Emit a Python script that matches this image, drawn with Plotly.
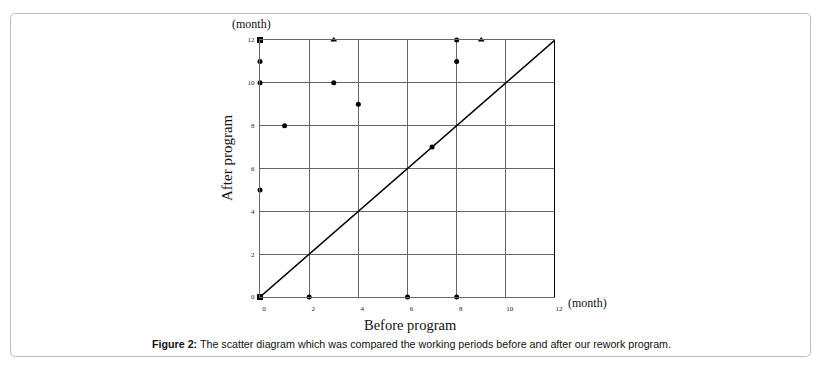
import plotly.graph_objects as go

# Data (months)
dot_before = [0, 0, 0, 1, 2, 3, 4, 6, 7, 8, 8, 8]
dot_after = [11, 10, 5, 8, 0, 10, 9, 0, 7, 12, 11, 0]
sq_before = [0, 0]
sq_after = [12, 0]
tri_before = [3, 9]
tri_after = [12, 12]
diag = [0, 12]
tick_vals = [0, 2, 4, 6, 8, 10, 12]
tick_text = ["0", "2", "4", "6", "8", "10", "12"]

W, H = 820, 366
L, R, T, B = 260, 265, 40, 69
pw, ph = W - L - R, H - T - B


def px(x):
    return (x - L) / pw


def py(y):
    return (H - B - y) / ph


serif = "Liberation Serif, DejaVu Serif, serif"

fig = go.Figure()
fig.add_trace(go.Scatter(x=diag, y=diag, mode="lines",
                         line=dict(color="black", width=1.5),
                         hoverinfo="skip", showlegend=False))
fig.add_trace(go.Scatter(x=dot_before, y=dot_after, mode="markers",
                         marker=dict(color="black", size=5, symbol="circle"),
                         cliponaxis=False, showlegend=False))
fig.add_trace(go.Scatter(x=sq_before, y=sq_after, mode="markers",
                         marker=dict(color="black", size=6, symbol="square"),
                         cliponaxis=False, showlegend=False))
fig.add_trace(go.Scatter(x=tri_before, y=tri_after, mode="markers",
                         marker=dict(color="black", size=6, symbol="triangle-up"),
                         cliponaxis=False, showlegend=False))

axis_common = dict(
    range=[0, 12], tickmode="array", tickvals=tick_vals, ticktext=tick_text,
    showgrid=True, gridcolor="#666", gridwidth=1, zeroline=False,
    showline=True, linecolor="#666", linewidth=1, ticks="",
    tickfont=dict(family=serif, size=7, color="#223"),
)
fig.update_xaxes(**axis_common, mirror=True, ticklabelshift=4, ticklabelstandoff=5)
fig.update_yaxes(**axis_common, ticklabelstandoff=3)

shapes = [
    dict(type="line", xref="x", yref="y", x0=12, x1=12, y0=0, y1=12,
         line=dict(color="black", width=2)),
]
# rounded border around the figure
x0, x1 = px(10.5), px(810.5)
y0, y1 = py(356.5), py(13.5)
rx, ry = 5 / pw, 5 / ph
path = (f"M {x0+rx},{y1} L {x1-rx},{y1} Q {x1},{y1} {x1},{y1-ry} "
        f"L {x1},{y0+ry} Q {x1},{y0} {x1-rx},{y0} L {x0+rx},{y0} "
        f"Q {x0},{y0} {x0},{y0+ry} L {x0},{y1-ry} Q {x0},{y1} {x0+rx},{y1} Z")
shapes.append(dict(type="path", xref="paper", yref="paper", path=path,
                   line=dict(color="#bbb", width=1), fillcolor="rgba(0,0,0,0)"))


def note(text, x, y, size, family=serif, angle=0):
    return dict(text=text, x=px(x), y=py(y), xref="paper", yref="paper",
                xanchor="center", yanchor="middle", showarrow=False,
                textangle=angle, font=dict(family=family, size=size, color="#111"))


annotations = [
    note("(month)", 251, 24, 12),
    note("(month)", 587, 303, 12),
    note("After program", 227, 158, 15, angle=-90),
    note("Before program", 410, 325, 14.5),
    note("<b>Figure 2:</b> The scatter diagram which was compared the working periods before and after our rework program.",
         411, 344, 10.7, family="Liberation Sans, Arial, sans-serif"),
]

fig.update_layout(
    width=W, height=H, margin=dict(l=L, r=R, t=T, b=B),
    paper_bgcolor="white", plot_bgcolor="white",
    shapes=shapes, annotations=annotations, showlegend=False,
)
fig.write_html("out.html", config={"displayModeBar": False},
               post_script="document.body.style.margin='0';")
